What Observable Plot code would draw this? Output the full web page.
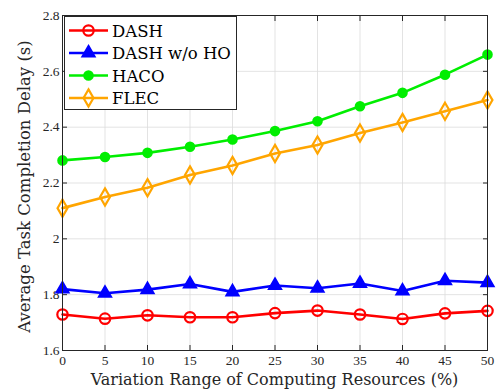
<!DOCTYPE html>
<html><head><meta charset="utf-8">
<script src="https://cdn.jsdelivr.net/npm/d3@7"></script>
<script src="https://cdn.jsdelivr.net/npm/@observablehq/plot@0.6"></script>
<style>
body{margin:0;background:#fff;}
#wrap{position:relative;width:499px;height:391px;font-family:"Liberation Serif",serif;}
#legend{position:absolute;left:64px;top:16px;width:173px;height:94px;background:#fff;border:1px solid #262626;box-sizing:border-box;}
</style>
</head><body>
<div id="wrap"><div id="chart"></div><div id="legend"></div></div>
<script>
const xs = [0,5,10,15,20,25,30,35,40,45,50];
const seriesNames = ["DASH","DASH w/o HO","HACO","FLEC"];
const dash     = [1.729,1.714,1.726,1.719,1.719,1.734,1.743,1.729,1.713,1.733,1.742];
const dashNoHO = [1.820,1.805,1.818,1.838,1.810,1.833,1.823,1.840,1.813,1.850,1.843];
const haco     = [2.281,2.293,2.308,2.330,2.356,2.386,2.421,2.475,2.523,2.588,2.660];
const flec     = [2.110,2.150,2.183,2.229,2.263,2.306,2.336,2.379,2.417,2.457,2.497];
const yTicks = [1.6,1.8,2,2.2,2.4,2.6,2.8];
const colors = ["#ff0000","#0000ff","#00ee00","#ffa500"];
const symbols = ["circle","triangle","circle","diamond"];
const fills = ["none","#0000ff","#00ee00","none"];
const radii = [5.2,4.4,4.2,5.2];

const allVals = [dash,dashNoHO,haco,flec];
const data = [];
allVals.forEach((vals,si)=>vals.forEach((v,i)=>data.push({x:xs[i],y:v,s:seriesNames[si]})));

const labelFont = "DejaVu Serif, serif";
const chart = Plot.plot({
  width:499, height:391,
  marginLeft:62, marginRight:12, marginTop:15, marginBottom:41,
  style:{fontFamily:"Liberation Serif, serif", fontSize:"13.5px", color:"#262626", background:"#fff"},
  x:{domain:[0,50], ticks:xs},
  y:{domain:[1.6,2.8], ticks:yTicks},
  marks:[
    Plot.gridX(xs,{stroke:"#dcdcdc", strokeOpacity:1, strokeWidth:0.8}),
    Plot.gridY(yTicks,{stroke:"#dcdcdc", strokeOpacity:1, strokeWidth:0.8}),
    Plot.axisX({ticks:xs, tickSize:-5, tickPadding:10, stroke:"#262626", fontSize:13.5, label:null}),
    Plot.axisX({ticks:xs, anchor:"top", tickSize:-5, tickFormat:()=>"", label:null, stroke:"#262626"}),
    Plot.axisY({ticks:yTicks, tickSize:-5, tickPadding:8, stroke:"#262626", fontSize:13.5, tickFormat:d=>String(d), label:null}),
    Plot.axisY({ticks:yTicks, anchor:"right", tickSize:-5, tickFormat:()=>"", label:null, stroke:"#262626"}),
    ...seriesNames.map((name,si)=>Plot.line(data.filter(d=>d.s===name),{x:"x",y:"y",stroke:colors[si],strokeWidth:2.6})),
    ...seriesNames.map((name,si)=>Plot.dot(data.filter(d=>d.s===name),{x:"x",y:"y",stroke:colors[si],fill:fills[si],symbol:symbols[si],r:radii[si],strokeWidth:2.2})),
    Plot.frame({stroke:"#262626", strokeWidth:1})
  ]
});
document.getElementById("chart").appendChild(chart);

// axis titles as SVG text inside the chart
const svg = d3.select(chart);
svg.append("text").attr("x",(62+487)/2).attr("y",385).attr("text-anchor","middle")
  .attr("font-family",labelFont).attr("font-size",16).attr("fill","#262626")
  .text("Variation Range of Computing Resources (%)");
svg.append("text").attr("transform",`translate(30,${(15+350)/2 + 4}) rotate(-90)`).attr("text-anchor","middle")
  .attr("font-family",labelFont).attr("font-size",16.5).attr("fill","#262626")
  .text("Average Task Completion Delay (s)");

// legend
const lg = d3.select("#legend").append("svg").attr("width",171).attr("height",92);
const symGen = {circle:d3.symbolCircle, triangle:d3.symbolTriangle, diamond:d3.symbolDiamond};
seriesNames.forEach((name,i)=>{
  const y = 13.5 + i*22.5;
  const g = lg.append("g").attr("transform",`translate(0,${y})`);
  g.append("line").attr("x1",4).attr("x2",43).attr("y1",0).attr("y2",0).attr("stroke",colors[i]).attr("stroke-width",2.6);
  const area = Math.PI*radii[i]*radii[i];
  g.append("path").attr("d",d3.symbol(symGen[symbols[i]],area)()).attr("transform","translate(23.5,0)")
    .attr("fill",fills[i]).attr("stroke",colors[i]).attr("stroke-width",2.2);
  g.append("text").attr("x",47).attr("y",6).attr("font-size",16.5).attr("fill","#000").attr("font-family",labelFont).text(name);
});
</script>
</body></html>
